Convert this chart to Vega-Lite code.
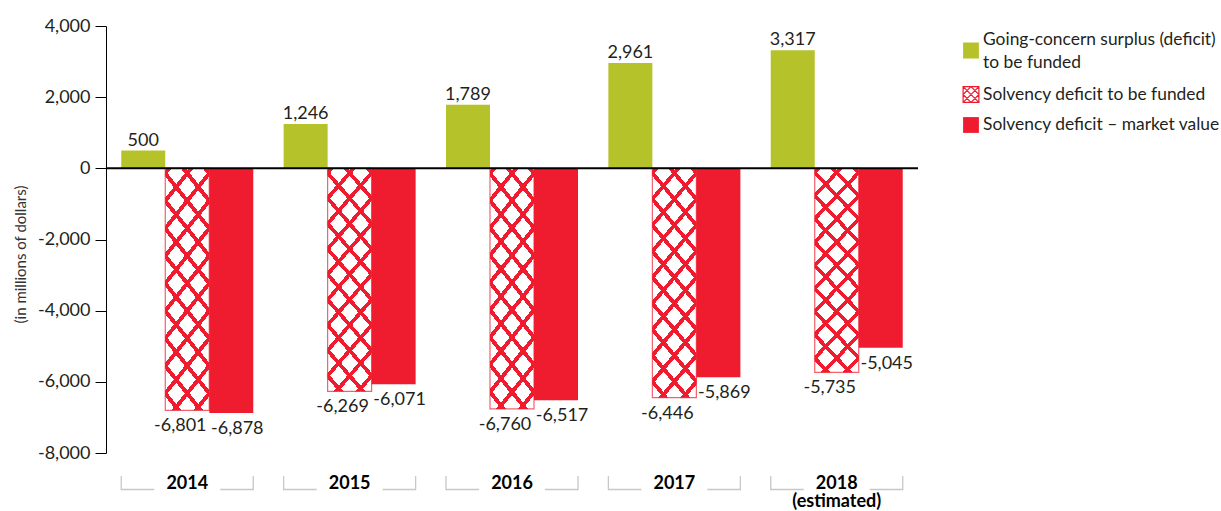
{
  "$schema": "https://vega.github.io/schema/vega-lite/v6.json",
  "width": 812,
  "height": 427,
  "autosize": {"type": "none"},
  "padding": {"left": 106, "top": 26, "right": 303, "bottom": 58},
  "background": "white",
  "config": {"font": "Lato", "view": {"stroke": null}},
  "datasets": {
    "main": [
      {"year": "2014", "series": "Going-concern surplus (deficit) to be funded", "value": 500},
      {"year": "2014", "series": "Solvency deficit to be funded", "value": -6801},
      {"year": "2014", "series": "Solvency deficit – market value", "value": -6878},
      {"year": "2015", "series": "Going-concern surplus (deficit) to be funded", "value": 1246},
      {"year": "2015", "series": "Solvency deficit to be funded", "value": -6269},
      {"year": "2015", "series": "Solvency deficit – market value", "value": -6071},
      {"year": "2016", "series": "Going-concern surplus (deficit) to be funded", "value": 1789},
      {"year": "2016", "series": "Solvency deficit to be funded", "value": -6760},
      {"year": "2016", "series": "Solvency deficit – market value", "value": -6517},
      {"year": "2017", "series": "Going-concern surplus (deficit) to be funded", "value": 2961},
      {"year": "2017", "series": "Solvency deficit to be funded", "value": -6446},
      {"year": "2017", "series": "Solvency deficit – market value", "value": -5869},
      {"year": "2018", "series": "Going-concern surplus (deficit) to be funded", "value": 3317},
      {"year": "2018", "series": "Solvency deficit to be funded", "value": -5735},
      {"year": "2018", "series": "Solvency deficit – market value", "value": -5045}
    ],
    "years": [
      {"year": "2014"}, {"year": "2015"}, {"year": "2016"}, {"year": "2017"}, {"year": "2018"}
    ],
    "brackets": [
      {"year": "2014", "part": "a"}, {"year": "2014", "part": "d"},
      {"year": "2015", "part": "a"}, {"year": "2015", "part": "d"},
      {"year": "2016", "part": "a"}, {"year": "2016", "part": "d"},
      {"year": "2017", "part": "a"}, {"year": "2017", "part": "d"},
      {"year": "2018", "part": "a"}, {"year": "2018", "part": "d"}
    ]
  },
  "resolve": {"scale": {"xOffset": "independent"}},
  "layer": [
    {
      "data": {"name": "main"},
      "mark": {"type": "bar", "strokeWidth": 0},
      "encoding": {
        "x": {
          "field": "year", "type": "nominal", "sort": null,
          "scale": {"paddingInner": 0.187, "paddingOuter": 0.094},
          "axis": {
            "title": null, "domain": false, "ticks": false,
            "labelFontSize": 18, "labelFontWeight": "bold", "labelColor": "#000000",
            "labelPadding": 21, "labelBaseline": "top", "labelLineHeight": 18.5, "labelAngle": 0,
            "labelExpr": "datum.value == '2018' ? ['2018', '(estimated)'] : datum.label"
          }
        },
        "xOffset": {
          "field": "series", "type": "nominal",
          "scale": {"type": "band", "domain": ["Going-concern surplus (deficit) to be funded", "Solvency deficit to be funded", "Solvency deficit – market value"], "paddingInner": 0, "paddingOuter": 0}
        },
        "y": {
          "field": "value", "type": "quantitative",
          "scale": {"domain": [-8000, 4000], "nice": false, "zero": false},
          "axis": {
            "values": [-8000, -6000, -4000, -2000, 0, 2000, 4000],
            "grid": false,
            "labelExpr": "replace(format(datum.value, ','), '−', '-')",
            "domainColor": "#000000", "domainWidth": 1, "tickColor": "#000000", "tickWidth": 1,
            "tickSize": 11, "labelPadding": 5, "labelFontSize": 18, "labelColor": "#231f20",
            "title": "(in millions of dollars)", "titleFontSize": 15, "titleFontWeight": "normal",
            "titleColor": "#333333", "titleX": -86, "titleY": 228, "titleAngle": -90,
            "titleAlign": "center", "titleBaseline": "middle"
          }
        },
        "fill": {
          "field": "series", "type": "nominal",
          "scale": {
            "domain": ["Going-concern surplus (deficit) to be funded", "Solvency deficit to be funded", "Solvency deficit – market value"],
            "range": ["#b5c22a", "#ffffff", "#ee1c2e"]
          },
          "legend": {
            "title": null, "orient": "right", "offset": 39, "padding": 5,
            "symbolType": "square", "symbolSize": 250, "labelFontSize": 17.4, "labelColor": "#231f20",
            "labelLimit": 320, "labelOffset": 3, "rowPadding": 8.5,
            "labelExpr": "datum.value == 'Going-concern surplus (deficit) to be funded' ? ['Going-concern surplus (deficit)', 'to be funded'] : datum.label",
            "encode": {
              "labels": {"update": {
                "lineHeight": [{"test": "datum.value == 'Going-concern surplus (deficit) to be funded'", "value": 22.5}, {"value": 17}]
              }},
              "symbols": {
                "update": {
                  "shape": [
                    {"test": "datum.value == 'Solvency deficit to be funded'", "value": "M-1,-1H1V1H-1Z M-1,0L0,-1 M-1,1L1,-1 M0,1L1,0 M-1,0L0,1 M-1,-1L1,1 M0,-1L1,0"},
                    {"test": "datum.value == 'Going-concern surplus (deficit) to be funded'", "value": "M-1,0.33H1V2.33H-1Z M0,4.09Z"},
                    {"value": "square"}
                  ],
                  "stroke": [
                    {"test": "datum.value == 'Solvency deficit to be funded'", "value": "#ee1c2e"},
                    {"value": "transparent"}
                  ],
                  "strokeWidth": {"value": 1.2}
                }
              }
            }
          }
        }
      }
    },
    {
      "data": {"name": "main"},
      "transform": [{"filter": "datum.series == 'Solvency deficit to be funded'"}],
      "mark": {
        "type": "bar", "stroke": "#ee1c2e", "strokeWidth": 1.2, "strokeOpacity": 0.7,
        "fill": {
          "gradient": "linear", "x1": 0, "y1": 0, "x2": 1, "y2": 4.4,
          "stops": [
            {"offset": 0, "color": "rgba(238,28,46,0)"},
            {"offset": 0.00167, "color": "rgba(238,28,46,0)"}, {"offset": 0.00167, "color": "#ee1c2e"}, {"offset": 0.00726, "color": "#ee1c2e"}, {"offset": 0.00726, "color": "rgba(238,28,46,0)"},
            {"offset": 0.02623, "color": "rgba(238,28,46,0)"}, {"offset": 0.02623, "color": "#ee1c2e"}, {"offset": 0.03182, "color": "#ee1c2e"}, {"offset": 0.03182, "color": "rgba(238,28,46,0)"},
            {"offset": 0.05079, "color": "rgba(238,28,46,0)"}, {"offset": 0.05079, "color": "#ee1c2e"}, {"offset": 0.05638, "color": "#ee1c2e"}, {"offset": 0.05638, "color": "rgba(238,28,46,0)"},
            {"offset": 0.07535, "color": "rgba(238,28,46,0)"}, {"offset": 0.07535, "color": "#ee1c2e"}, {"offset": 0.08094, "color": "#ee1c2e"}, {"offset": 0.08094, "color": "rgba(238,28,46,0)"},
            {"offset": 0.09991, "color": "rgba(238,28,46,0)"}, {"offset": 0.09991, "color": "#ee1c2e"}, {"offset": 0.1055, "color": "#ee1c2e"}, {"offset": 0.1055, "color": "rgba(238,28,46,0)"},
            {"offset": 0.12447, "color": "rgba(238,28,46,0)"}, {"offset": 0.12447, "color": "#ee1c2e"}, {"offset": 0.13006, "color": "#ee1c2e"}, {"offset": 0.13006, "color": "rgba(238,28,46,0)"},
            {"offset": 0.14903, "color": "rgba(238,28,46,0)"}, {"offset": 0.14903, "color": "#ee1c2e"}, {"offset": 0.15461, "color": "#ee1c2e"}, {"offset": 0.15461, "color": "rgba(238,28,46,0)"},
            {"offset": 0.17358, "color": "rgba(238,28,46,0)"}, {"offset": 0.17358, "color": "#ee1c2e"}, {"offset": 0.17917, "color": "#ee1c2e"}, {"offset": 0.17917, "color": "rgba(238,28,46,0)"},
            {"offset": 0.19814, "color": "rgba(238,28,46,0)"}, {"offset": 0.19814, "color": "#ee1c2e"}, {"offset": 0.20373, "color": "#ee1c2e"}, {"offset": 0.20373, "color": "rgba(238,28,46,0)"},
            {"offset": 0.2227, "color": "rgba(238,28,46,0)"}, {"offset": 0.2227, "color": "#ee1c2e"}, {"offset": 0.22829, "color": "#ee1c2e"}, {"offset": 0.22829, "color": "rgba(238,28,46,0)"},
            {"offset": 0.24726, "color": "rgba(238,28,46,0)"}, {"offset": 0.24726, "color": "#ee1c2e"}, {"offset": 0.25285, "color": "#ee1c2e"}, {"offset": 0.25285, "color": "rgba(238,28,46,0)"},
            {"offset": 1, "color": "rgba(238,28,46,0)"}
          ]
        }
      },
      "encoding": {
        "x": {"field": "year", "type": "nominal", "sort": null},
        "xOffset": {"field": "series", "type": "nominal", "scale": {"type": "band", "domain": ["Going-concern surplus (deficit) to be funded", "Solvency deficit to be funded", "Solvency deficit – market value"], "paddingInner": 0, "paddingOuter": 0}},
        "y": {"field": "value", "type": "quantitative"}
      }
    },
    {
      "data": {"name": "main"},
      "transform": [{"filter": "datum.series == 'Solvency deficit to be funded'"}],
      "mark": {
        "type": "bar", "strokeWidth": 0,
        "fill": {
          "gradient": "linear", "x1": 1, "y1": 0, "x2": 0, "y2": 4.4,
          "stops": [
            {"offset": 0, "color": "rgba(238,28,46,0)"},
            {"offset": 0.00167, "color": "rgba(238,28,46,0)"}, {"offset": 0.00167, "color": "#ee1c2e"}, {"offset": 0.00726, "color": "#ee1c2e"}, {"offset": 0.00726, "color": "rgba(238,28,46,0)"},
            {"offset": 0.02623, "color": "rgba(238,28,46,0)"}, {"offset": 0.02623, "color": "#ee1c2e"}, {"offset": 0.03182, "color": "#ee1c2e"}, {"offset": 0.03182, "color": "rgba(238,28,46,0)"},
            {"offset": 0.05079, "color": "rgba(238,28,46,0)"}, {"offset": 0.05079, "color": "#ee1c2e"}, {"offset": 0.05638, "color": "#ee1c2e"}, {"offset": 0.05638, "color": "rgba(238,28,46,0)"},
            {"offset": 0.07535, "color": "rgba(238,28,46,0)"}, {"offset": 0.07535, "color": "#ee1c2e"}, {"offset": 0.08094, "color": "#ee1c2e"}, {"offset": 0.08094, "color": "rgba(238,28,46,0)"},
            {"offset": 0.09991, "color": "rgba(238,28,46,0)"}, {"offset": 0.09991, "color": "#ee1c2e"}, {"offset": 0.1055, "color": "#ee1c2e"}, {"offset": 0.1055, "color": "rgba(238,28,46,0)"},
            {"offset": 0.12447, "color": "rgba(238,28,46,0)"}, {"offset": 0.12447, "color": "#ee1c2e"}, {"offset": 0.13006, "color": "#ee1c2e"}, {"offset": 0.13006, "color": "rgba(238,28,46,0)"},
            {"offset": 0.14903, "color": "rgba(238,28,46,0)"}, {"offset": 0.14903, "color": "#ee1c2e"}, {"offset": 0.15461, "color": "#ee1c2e"}, {"offset": 0.15461, "color": "rgba(238,28,46,0)"},
            {"offset": 0.17358, "color": "rgba(238,28,46,0)"}, {"offset": 0.17358, "color": "#ee1c2e"}, {"offset": 0.17917, "color": "#ee1c2e"}, {"offset": 0.17917, "color": "rgba(238,28,46,0)"},
            {"offset": 0.19814, "color": "rgba(238,28,46,0)"}, {"offset": 0.19814, "color": "#ee1c2e"}, {"offset": 0.20373, "color": "#ee1c2e"}, {"offset": 0.20373, "color": "rgba(238,28,46,0)"},
            {"offset": 0.2227, "color": "rgba(238,28,46,0)"}, {"offset": 0.2227, "color": "#ee1c2e"}, {"offset": 0.22829, "color": "#ee1c2e"}, {"offset": 0.22829, "color": "rgba(238,28,46,0)"},
            {"offset": 0.24726, "color": "rgba(238,28,46,0)"}, {"offset": 0.24726, "color": "#ee1c2e"}, {"offset": 0.25285, "color": "#ee1c2e"}, {"offset": 0.25285, "color": "rgba(238,28,46,0)"},
            {"offset": 1, "color": "rgba(238,28,46,0)"}
          ]
        }
      },
      "encoding": {
        "x": {"field": "year", "type": "nominal", "sort": null},
        "xOffset": {"field": "series", "type": "nominal", "scale": {"type": "band", "domain": ["Going-concern surplus (deficit) to be funded", "Solvency deficit to be funded", "Solvency deficit – market value"], "paddingInner": 0, "paddingOuter": 0}},
        "y": {"field": "value", "type": "quantitative"}
      }
    },
    {
      "data": {"values": [{}]},
      "mark": {"type": "rule", "color": "#000000", "strokeWidth": 2},
      "encoding": {"y": {"datum": 0, "type": "quantitative"}}
    },
    {
      "data": {"name": "main"},
      "transform": [{"filter": "datum.value > 0"}],
      "mark": {"type": "text", "baseline": "alphabetic", "dy": -5, "fontSize": 18, "color": "#231f20", "text": {"expr": "replace(format(datum.value, ','), '−', '-')"}},
      "encoding": {
        "x": {"field": "year", "type": "nominal", "sort": null},
        "xOffset": {"field": "series", "type": "nominal", "scale": {"type": "band", "domain": ["Going-concern surplus (deficit) to be funded", "Solvency deficit to be funded", "Solvency deficit – market value"], "paddingInner": 0, "paddingOuter": 0}},
        "y": {"field": "value", "type": "quantitative"}
      }
    },
    {
      "data": {"name": "main"},
      "transform": [{"filter": "datum.series == 'Solvency deficit to be funded'"}],
      "mark": {"type": "text", "baseline": "alphabetic", "dy": 21, "dx": -7, "fontSize": 18, "color": "#231f20", "text": {"expr": "replace(format(datum.value, ','), '−', '-')"}},
      "encoding": {
        "x": {"field": "year", "type": "nominal", "sort": null},
        "xOffset": {"field": "series", "type": "nominal", "scale": {"type": "band", "domain": ["Going-concern surplus (deficit) to be funded", "Solvency deficit to be funded", "Solvency deficit – market value"], "paddingInner": 0, "paddingOuter": 0}},
        "y": {"field": "value", "type": "quantitative"}
      }
    },
    {
      "data": {"name": "main"},
      "transform": [{"filter": "datum.series == 'Solvency deficit – market value'"}],
      "mark": {"type": "text", "baseline": "alphabetic", "dy": 21, "dx": 6, "fontSize": 18, "color": "#231f20", "text": {"expr": "replace(format(datum.value, ','), '−', '-')"}},
      "encoding": {
        "x": {"field": "year", "type": "nominal", "sort": null},
        "xOffset": {"field": "series", "type": "nominal", "scale": {"type": "band", "domain": ["Going-concern surplus (deficit) to be funded", "Solvency deficit to be funded", "Solvency deficit – market value"], "paddingInner": 0, "paddingOuter": 0}},
        "y": {"field": "value", "type": "quantitative"}
      }
    },
    {
      "data": {"name": "years"},
      "mark": {"type": "rule", "color": "#c8c8c8", "strokeWidth": 1.3},
      "encoding": {
        "x": {"field": "year", "type": "nominal", "sort": null, "bandPosition": 0},
        "y": {"datum": -8646, "type": "quantitative"},
        "y2": {"datum": -9045}
      }
    },
    {
      "data": {"name": "years"},
      "mark": {"type": "rule", "color": "#c8c8c8", "strokeWidth": 1.3},
      "encoding": {
        "x": {"field": "year", "type": "nominal", "sort": null, "bandPosition": 1},
        "y": {"datum": -8646, "type": "quantitative"},
        "y2": {"datum": -9045}
      }
    },
    {
      "data": {"name": "brackets"},
      "mark": {"type": "bar", "color": "#c8c8c8"},
      "encoding": {
        "x": {"field": "year", "type": "nominal", "sort": null},
        "xOffset": {"field": "part", "type": "nominal", "scale": {"type": "band", "domain": ["a", "b", "c", "d"], "paddingInner": 0, "paddingOuter": 0}},
        "y": {"datum": -9005, "type": "quantitative"},
        "y2": {"datum": -9045}
      }
    }
  ]
}
